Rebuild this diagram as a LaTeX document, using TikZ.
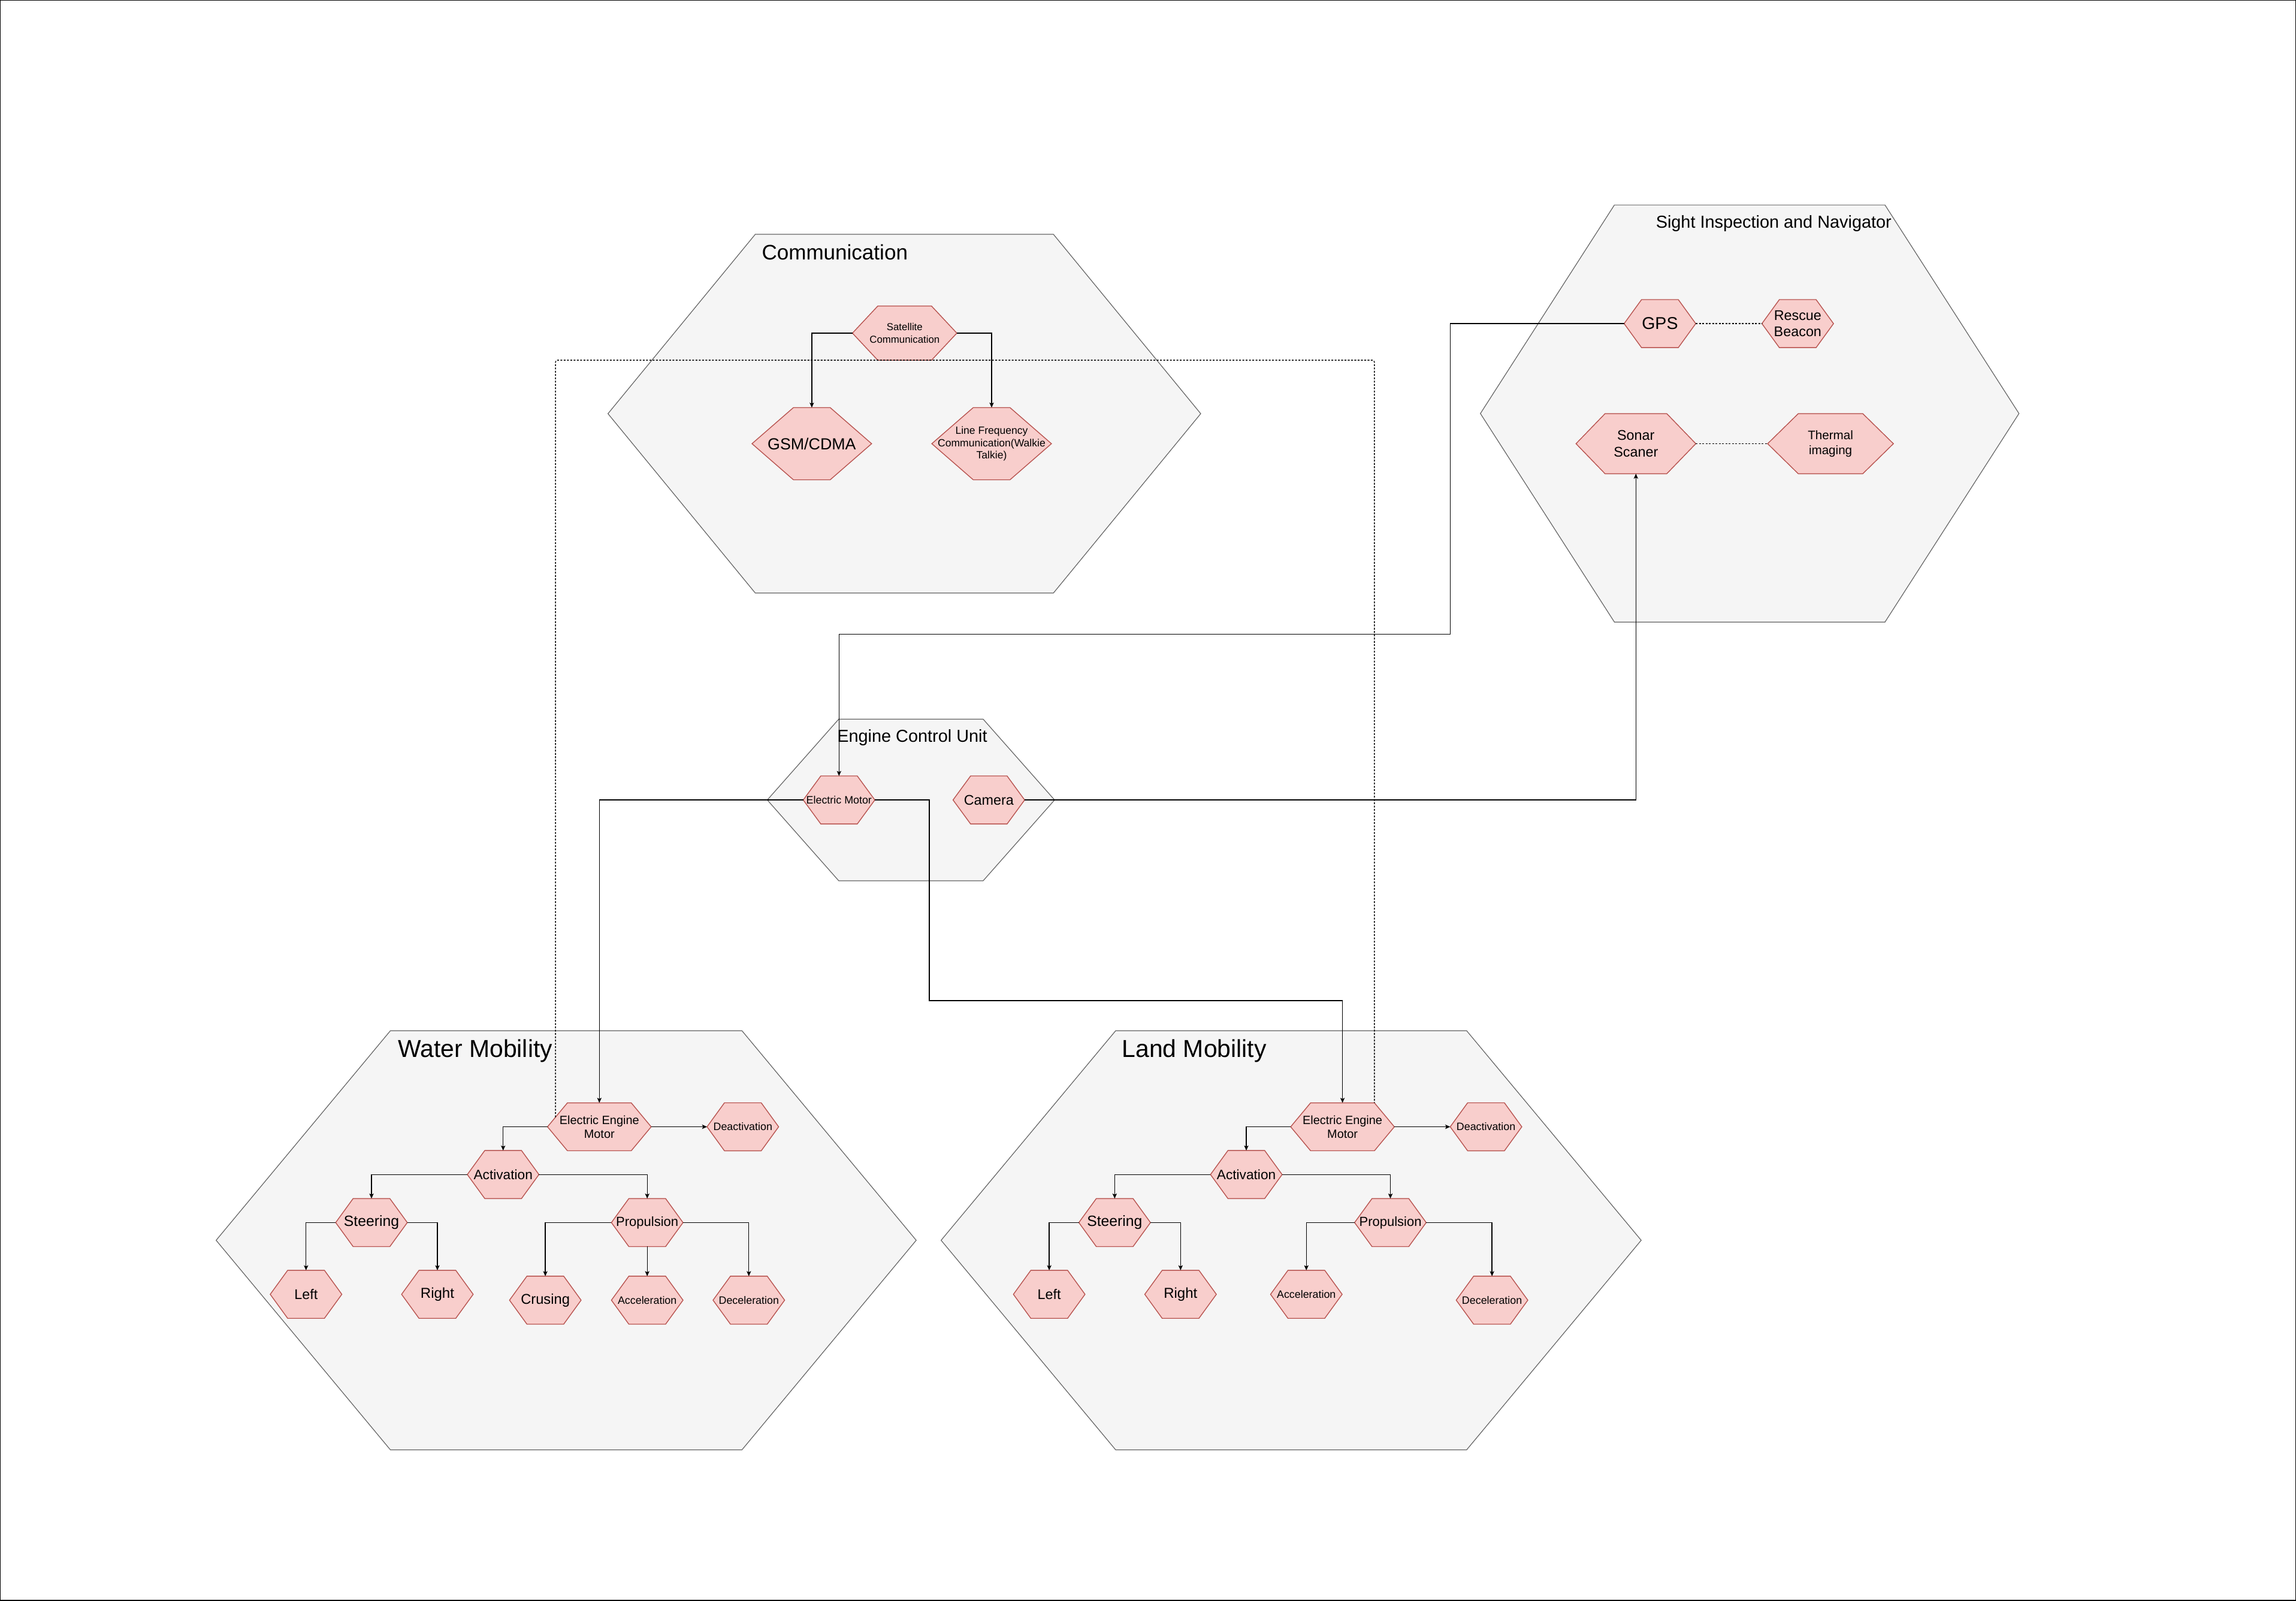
\documentclass[tikz,border=0pt]{standalone}
\usepackage{fontspec}
\setmainfont{Liberation Sans}
\usetikzlibrary{arrows.meta, calc}

\newcommand{\dpx}{0.025cm}
\newcommand{\fsz}[2]{\fontsize{#1}{#2}\selectfont}
\definecolor{hexfill}{HTML}{F8CECC}
\definecolor{hexdraw}{HTML}{B85450}
\definecolor{boxfill}{HTML}{F5F5F5}
\definecolor{boxdraw}{HTML}{666666}
\pgfdeclarelayer{back}
\pgfdeclarelayer{hex}
\pgfsetlayers{back,hex,main}

\tikzset{
	hexa/.style={rectangle, inner sep=0pt, outer sep=0pt, align=center,
		minimum width=48.9*\dpx, minimum height=32.8*\dpx, font=\fsz{5.2}{6.2}},
	hsize/.style 2 args={minimum width=#1*\dpx, minimum height=#2*\dpx},
	hexline/.style={fill=hexfill, draw=hexdraw, line width=0.4pt},
	boxline/.style={fill=boxfill, draw=boxdraw, line width=0.35pt},
	boxtitle/.style={inner sep=0pt, anchor=base west},
	link/.style={draw, line width=0.4pt, ->},
	dotlink/.style={draw, line width=0.4pt, dash pattern=on 0.9pt off 0.7pt, rounded corners=1pt},
	>={Stealth[length=2.4pt, width=2.1pt, inset=0.5pt]}
}

\begin{document}
\begin{tikzpicture}[x=\dpx, y=-\dpx]
	\useasboundingbox (0,0) rectangle (1568,1093.3);
	\draw[line width=0.4pt] (0.3,0.3) rectangle (1567.7,1093);

	% container hexagons: centre x, centre y, half width, half height, slant
	\begin{pgfonlayer}{back}
		\foreach \cx/\cy/\w/\h/\s in {617.6/282.5/202.4/122.5/100.6, 1194.9/282.4/183.9/142.4/91.5,
			622.1/546.3/98.1/55.2/48.8, 386.65/847/239.05/143.1/119, 881.75/847/239.05/143.1/119.2}
			\draw[boxline] (\cx-\w,\cy) -- (\cx-\w+\s,\cy-\h) -- (\cx+\w-\s,\cy-\h) -- (\cx+\w,\cy)
				-- (\cx+\w-\s,\cy+\h) -- (\cx-\w+\s,\cy+\h) -- cycle;
	\end{pgfonlayer}

	\node[boxtitle, font=\fsz{10.2}{12}] (commtitle) at (520,177.4) {Communication};
	\node[boxtitle, font=\fsz{8.4}{10}] (sighttitle) at (1130.6,155.5) {Sight Inspection and Navigator};
	\node[boxtitle, font=\fsz{8.4}{10}] (ecutitle) at (571.5,506.9) {Engine Control Unit};
	\node[boxtitle, font=\fsz{11.9}{14}] (watertitle) at (271.6,722) {Water Mobility};
	\node[boxtitle, font=\fsz{11.9}{14}] (landtitle) at (766,722) {Land Mobility};

	% communication
	\node[hexa, hsize={71.3}{37}, font=\fsz{4.9}{6}] (sat) at (617.8,227.5) {Satellite\\Communication};
	\node[hexa, hsize={81.7}{49.3}, font=\fsz{7.8}{9.4}] (gsm) at (554.4,303) {GSM/CDMA};
	\node[hexa, hsize={81.7}{49.3}, font=\fsz{5.1}{6}] (lfc) at (677.2,303) {Line Frequency\\Communication(Walkie\\Talkie)};

	% sight inspection
	\node[hexa, font=\fsz{8.3}{10}] (gps) at (1133.6,221) {GPS};
	\node[hexa, font=\fsz{6.8}{8.1}] (beacon) at (1227.7,221) {Rescue\\Beacon};
	\node[hexa, hsize={81.8}{41}, font=\fsz{6.8}{8}] (sonar) at (1117.2,303) {Sonar\\Scaner};
	\node[hexa, hsize={85.9}{41}, font=\fsz{6}{7.3}] (thermal) at (1250.1,303) {Thermal\\imaging};

	% engine control unit
	\node[hexa] (motor) at (573,546.3) {Electric Motor};
	\node[hexa, font=\fsz{6.8}{8}] (camera) at (675.3,546.3) {Camera};

	% water mobility
	\begin{scope}
		\node[hexa, hsize={70.8}{32.7}, font=\fsz{5.8}{6.8}] (wmotor) at (409.3,769.5) {Electric Engine\\Motor};
		\node[hexa] (woff) at (507.3,769.5) {Deactivation};
		\node[hexa, font=\fsz{6.6}{8}] (wact) at (343.6,802.1) {Activation};
		\node[hexa, font=\fsz{7.2}{8.6}] (wsteer) at (253.7,834.9) {Steering};
		\node[hexa, font=\fsz{6.4}{7.7}] (wprop) at (442,834.9) {Propulsion};
		\node[hexa, font=\fsz{6.8}{8}] (wleft) at (209,883.9) {Left};
		\node[hexa, font=\fsz{7}{8.4}] (wright) at (298.7,883.9) {Right};
		\node[hexa, font=\fsz{6.9}{8.3}] (wcruise) at (372.4,887.9) {Crusing};
		\node[hexa] (wacc) at (442,887.9) {Acceleration};
		\node[hexa] (wdec) at (511.4,887.9) {Deceleration};
	\end{scope}

	% land mobility
	\begin{scope}[xshift=12.685cm]
		\node[hexa, hsize={70.8}{32.7}, font=\fsz{5.8}{6.8}] (lmotor) at (409.3,769.5) {Electric Engine\\Motor};
		\node[hexa] (loff) at (507.3,769.5) {Deactivation};
		\node[hexa, font=\fsz{6.6}{8}] (lact) at (343.6,802.1) {Activation};
		\node[hexa, font=\fsz{7.2}{8.6}] (lsteer) at (253.7,834.9) {Steering};
		\node[hexa, font=\fsz{6.4}{7.7}] (lprop) at (442,834.9) {Propulsion};
		\node[hexa, font=\fsz{6.8}{8}] (lleft) at (209,883.9) {Left};
		\node[hexa, font=\fsz{7}{8.4}] (lright) at (298.7,883.9) {Right};
		\node[hexa] (lacc) at (384.6,883.9) {Acceleration};
		\node[hexa] (ldec) at (511.4,887.9) {Deceleration};
	\end{scope}

	% hexagon outlines behind the texts
	\begin{pgfonlayer}{hex}
		\foreach \n/\s in {sat/17.3, gsm/28.3, lfc/28.3, gps/11.9, beacon/11.9, sonar/19.8, thermal/20.9,
			motor/12, camera/12, wmotor/13.6, woff/11.9, wact/11.9, wsteer/11.9, wprop/11.9, wleft/11.9,
			wright/11.9, wcruise/11.9, wacc/11.9, wdec/11.9, lmotor/13.6, loff/11.9, lact/11.9, lsteer/11.9,
			lprop/11.9, lleft/11.9, lright/11.9, lacc/11.9, ldec/11.9}
			\draw[hexline] (\n.west) -- ($(\n.north west)+(\s,0)$) -- ($(\n.north east)-(\s,0)$) -- (\n.east)
				-- ($(\n.south east)-(\s,0)$) -- ($(\n.south west)+(\s,0)$) -- cycle;
	\end{pgfonlayer}

	% connectors
	\draw[link] (sat.west) -| (gsm.north);
	\draw[link] (sat.east) -| (lfc.north);
	\draw[dotlink] (gps) -- (beacon);
	\draw[dotlink] (sonar) -- (thermal);

	\coordinate (gpsturn) at (990.3,433);
	\draw[link] (gps.west) -| (gpsturn) -| (motor.north);
	\draw[link] (camera.east) -| (sonar.south);
	\draw[link] (motor.west) -| (wmotor.north);
	\coordinate (motorturn) at (634.6,683.3);
	\draw[link] (motor.east) -| (motorturn) -| (lmotor.north);

	\foreach \p in {w,l} {
		\draw[link] (\p motor) -- (\p off);
		\draw[link] (\p motor.west) -| (\p act.north);
		\draw[link] (\p act.west) -| (\p steer.north);
		\draw[link] (\p act.east) -| (\p prop.north);
		\draw[link] (\p steer.west) -| (\p left.north);
		\draw[link] (\p steer.east) -| (\p right.north);
		\draw[link] (\p prop.east) -| (\p dec.north);
	}
	\draw[link] (wprop.west) -| (wcruise.north);
	\draw[link] (wprop) -- (wacc);
	\draw[link] (lprop.west) -| (lacc.north);

	\coordinate (wcorner) at ($(wmotor.north west)+(13.6,0)$);
	\coordinate (wtap) at ($(wmotor.west)!0.4!(wcorner)$);
	\draw[dotlink] (wtap) -- ++(0,-517) -| ($(lmotor.north east)-(13.6,0)$);
\end{tikzpicture}
\end{document}
